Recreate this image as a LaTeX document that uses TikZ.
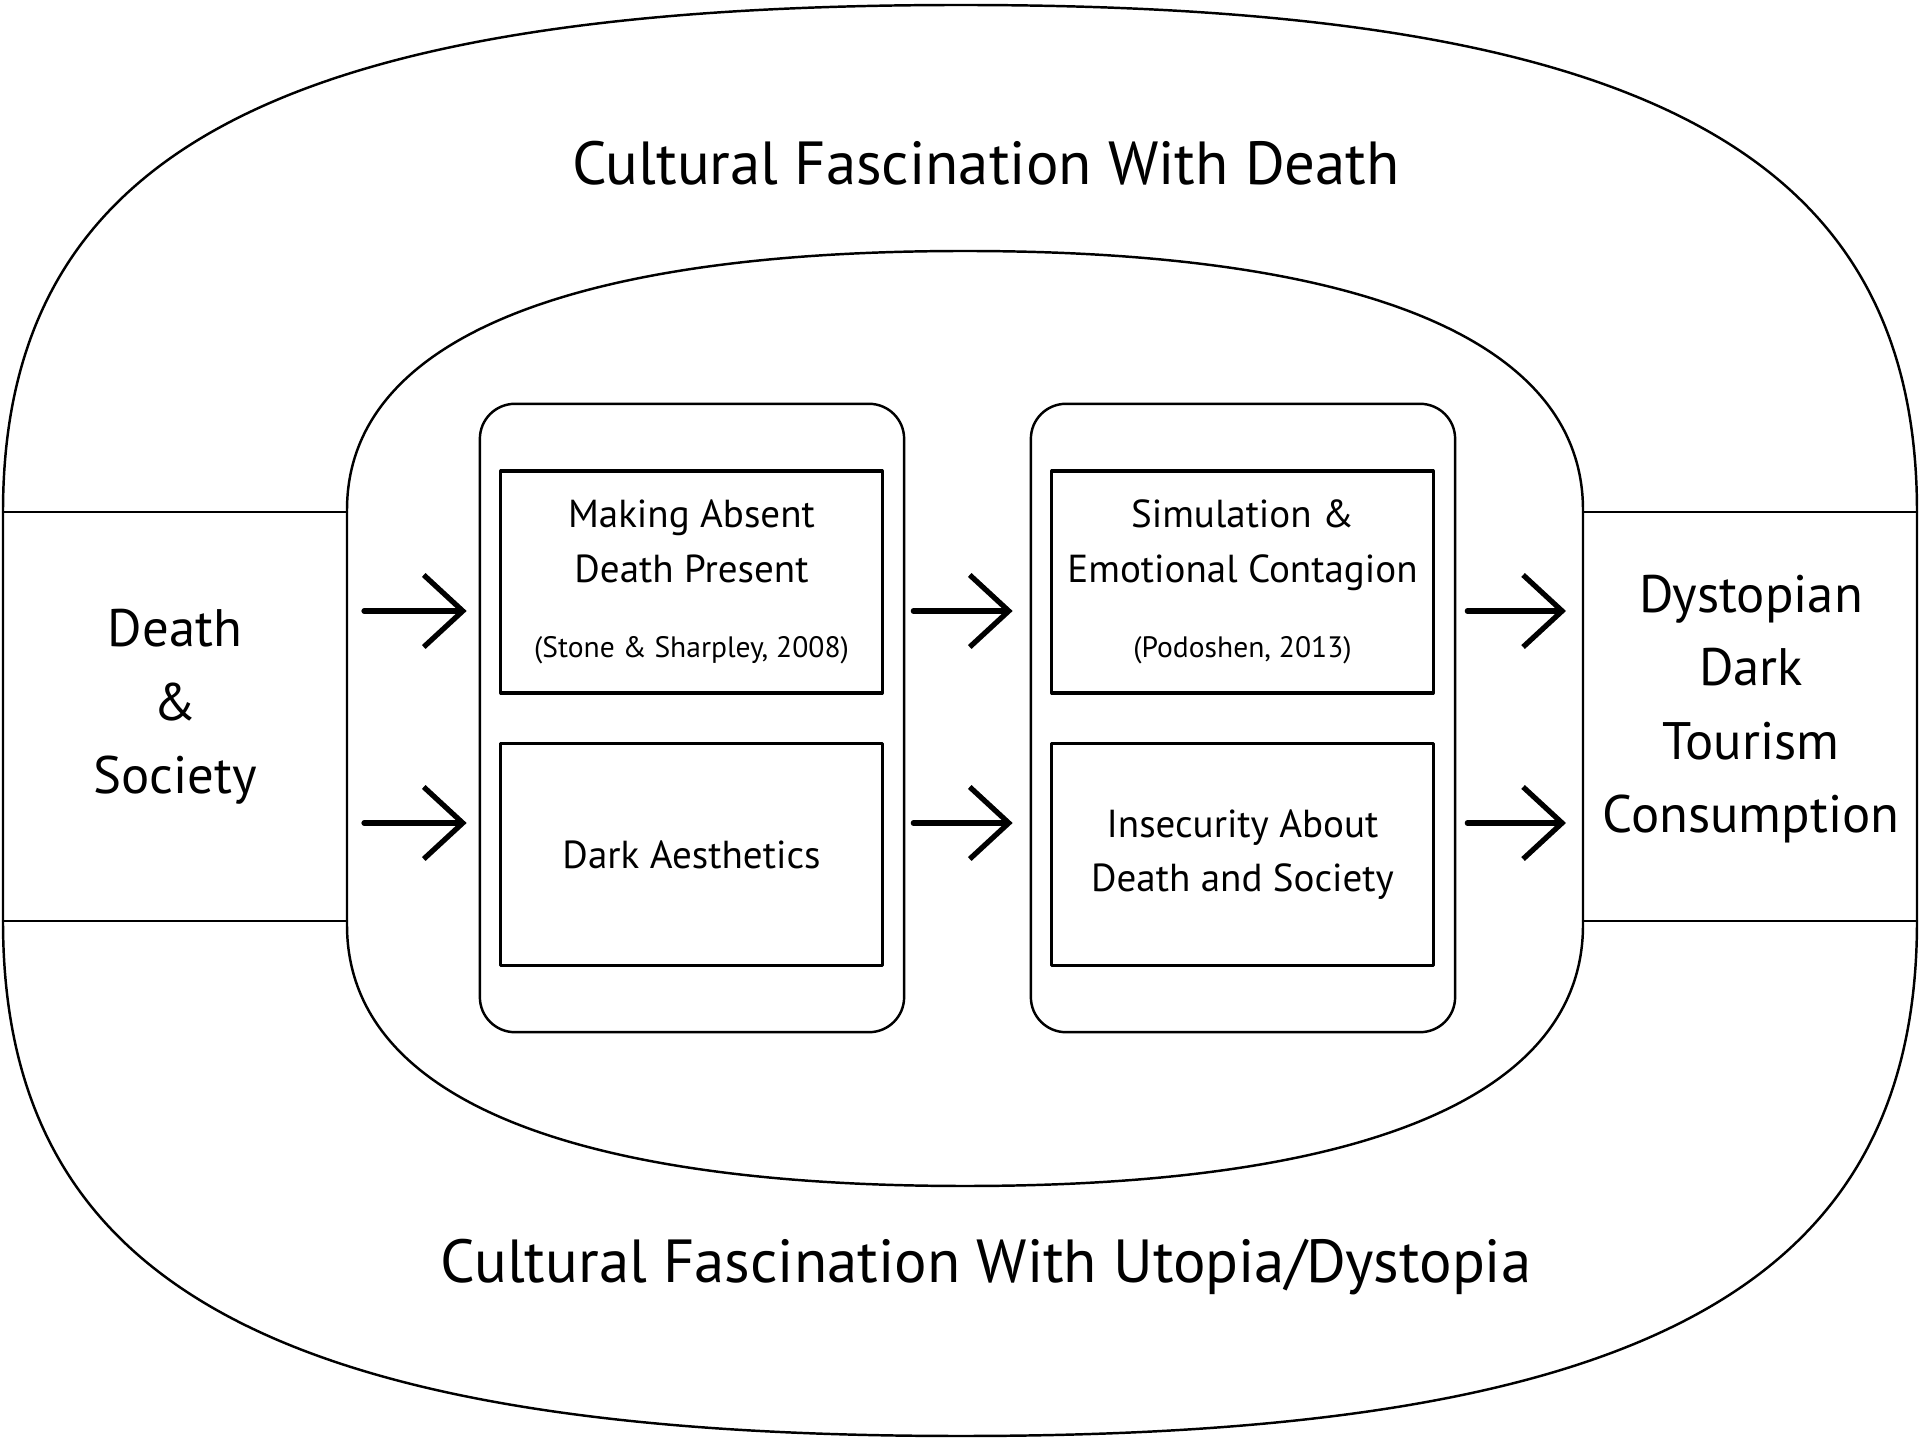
\documentclass[tikz,border=0pt]{standalone}
\usepackage{fontspec}
\setmainfont{PT Sans}
\usetikzlibrary{arrows.meta, positioning}

\tikzset{
  ring/.style={draw, line width=0.7pt},
  grp/.style={draw, line width=0.7pt, rounded corners=0.35cm,
    minimum width=4.24cm, minimum height=6.28cm},
  stage/.style={draw, line width=0.9pt, minimum width=3.81cm, minimum height=2.22cm,
    align=center, inner sep=0pt, font=\fontsize{11.1}{15.4}\selectfont},
  cite/.style={font=\fontsize{8.4}{9.6}\selectfont},
  side/.style={align=center, font=\fontsize{15}{20.9}\selectfont},
  banner/.style={font=\fontsize{17.3}{21}\selectfont},
  arr/.style={-{Straight Barb[length=0.39cm,width=0.72cm]}, line width=1.5pt,
    shorten >=0.12cm, shorten <=0.17cm}
}

\begin{document}
\begin{tikzpicture}[x=0.01cm, y=-0.01cm, line cap=round, line join=round]
\useasboundingbox (0,0) rectangle (1920,1440);
\fill[white] (0,0) rectangle (1920,1440);

% Outer and inner rings
\draw[ring] (3,512) .. controls (3,152) and (281,5) .. (961,5)
  .. controls (1641,5) and (1917,152) .. (1917,512) -- (1917,921)
  .. controls (1917,1287) and (1641,1436) .. (961,1436)
  .. controls (281,1436) and (3,1287) .. (3,921) -- cycle;
\draw[ring] (347,510) .. controls (347,342) and (563,251) .. (965,251)
  .. controls (1367,251) and (1583,342) .. (1583,510) -- (1583,925)
  .. controls (1583,1095) and (1367,1186) .. (965,1186)
  .. controls (563,1186) and (347,1095) .. (347,925) -- cycle;

% Band
\draw[ring] (3,512) -- (347,512) (3,921) -- (347,921);
\draw[ring] (1583,512) -- (1917,512) (1583,921) -- (1917,921);

% Nodes
\node[banner] (top) at (986,163) {Cultural Fascination With Death};
\node[banner] (bot) at (986,1267) {Cultural Fascination With Utopia/Dystopia};
\node[side] (src) at (175,707) {Death\\\&\\Society};
\node[side] (dtc) at (1751,709) {Dystopian\\Dark\\Tourism\\Consumption};

\node[grp] (lgrp) at (692,718) {};
\node[grp] (rgrp) at (1243,718) {};

\node[stage] (mab) at (691.5,582) {Making Absent\\Death Present\\[6pt]{\fontsize{8.4}{9.6}\selectfont(Stone \& Sharpley, 2008)}};
\node[stage] (dae) at (691.5,854.5) {Dark Aesthetics};
\node[stage] (sim) at (1242.5,582) {Simulation \&\\Emotional Contagion\\[6pt]{\fontsize{8.4}{9.6}\selectfont(Podoshen, 2013)}};
\node[stage] (ins) at (1242.5,854.5) {Insecurity About\\Death and Society};

\coordinate (in1) at (347,611);
\coordinate (in2) at (347,823);
\coordinate (out1) at (1583,611);
\coordinate (out2) at (1583,823);

% Arrows
\draw[arr] (in1) -- (in1 -| lgrp.west);
\draw[arr] (in2) -- (in2 -| lgrp.west);
\draw[arr, shorten <=0.08cm, shorten >=0.17cm] (in1 -| lgrp.east) -- (in1 -| rgrp.west);
\draw[arr, shorten <=0.08cm, shorten >=0.17cm] (in2 -| lgrp.east) -- (in2 -| rgrp.west);
\draw[arr, shorten <=0.11cm, shorten >=0.17cm] (in1 -| rgrp.east) -- (out1);
\draw[arr, shorten <=0.11cm, shorten >=0.17cm] (in2 -| rgrp.east) -- (out2);

\end{tikzpicture}
\end{document}
